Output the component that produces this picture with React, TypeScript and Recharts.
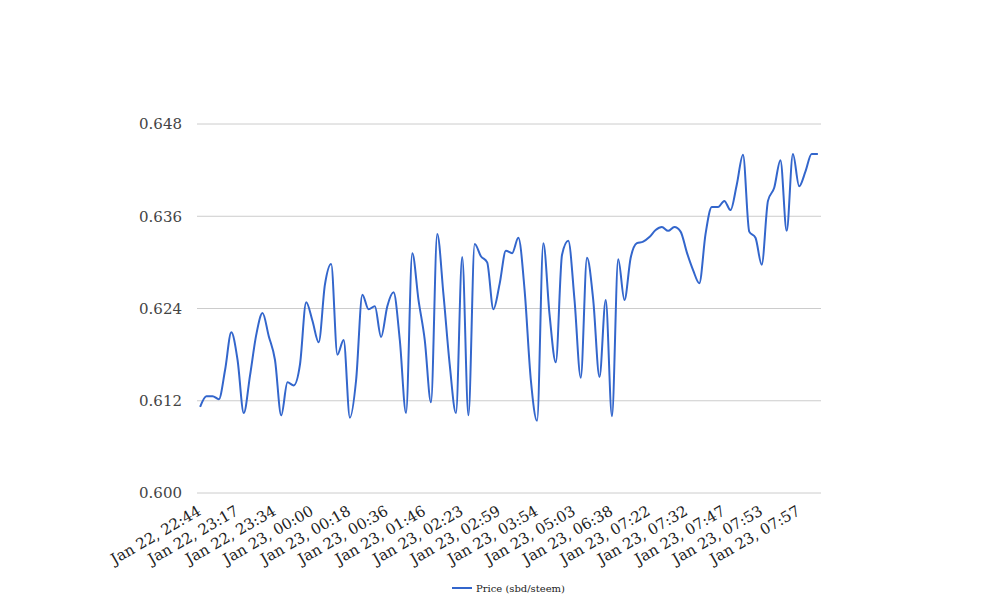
import React from "react";
import { LineChart, Line, XAxis, YAxis, CartesianGrid } from "recharts";

const prices: number[] = [
  0.6112, 0.6126, 0.6126, 0.6122, 0.616, 0.6209, 0.6173, 0.6104, 0.6153, 0.6206,
  0.6234, 0.6204, 0.6173, 0.6101, 0.6144, 0.614, 0.6167, 0.6248, 0.6224, 0.6196,
  0.6271, 0.6298, 0.618, 0.6199, 0.6098, 0.6147, 0.6258, 0.6239, 0.6243, 0.6203,
  0.6243, 0.6261, 0.6199, 0.6104, 0.6312, 0.6251, 0.6199, 0.6118, 0.6337, 0.6258,
  0.6167, 0.6104, 0.6307, 0.6101, 0.6324, 0.6308, 0.63, 0.6239, 0.6272, 0.6315,
  0.6312, 0.6332, 0.6264, 0.6147, 0.6094, 0.6325, 0.6232, 0.617, 0.631, 0.6328,
  0.6251, 0.615, 0.6306, 0.6251, 0.6151, 0.6251, 0.61, 0.6304, 0.6251, 0.6306,
  0.6325, 0.6327, 0.6333, 0.6342, 0.6346, 0.6341, 0.6346, 0.634, 0.6313, 0.629,
  0.6273, 0.6337, 0.6372, 0.6372, 0.638, 0.6368, 0.6401, 0.644, 0.634, 0.6332,
  0.6297, 0.638, 0.6397, 0.6433, 0.6341, 0.6441, 0.6399, 0.6418, 0.6441, 0.6441,
];

const tickIndices: number[] = [0, 6, 12, 18, 24, 30, 36, 42, 48, 54, 60, 66, 72, 78, 84, 90, 96];
const tickLabels: string[] = [
  "Jan 22, 22:44", "Jan 22, 23:17", "Jan 22, 23:34", "Jan 23, 00:00", "Jan 23, 00:18",
  "Jan 23, 00:36", "Jan 23, 01:46", "Jan 23, 02:23", "Jan 23, 02:59", "Jan 23, 03:54",
  "Jan 23, 05:03", "Jan 23, 06:38", "Jan 23, 07:22", "Jan 23, 07:32", "Jan 23, 07:47",
  "Jan 23, 07:53", "Jan 23, 07:57",
];
const yTicks: number[] = [0.6, 0.612, 0.624, 0.636, 0.648];
const seriesName = "Price (sbd/steem)";

const data = prices.map((p, i) => ({ idx: i, price: p }));

const FONT = "'DejaVu Serif', serif";

const XTick = (props: any) => {
  const { x, y, payload } = props;
  const k = tickIndices.indexOf(payload.value);
  const label = k >= 0 ? tickLabels[k] : "";
  const ax = x + 2;
  const ay = y + 13;
  return (
    <text
      x={ax}
      y={ay}
      textAnchor="end"
      transform={`rotate(-30, ${ax}, ${ay})`}
      fontFamily={FONT}
      fontSize={15}
      fill="#222"
    >
      {label}
    </text>
  );
};

export default function App() {
  return (
    <div style={{ position: "relative", width: 1000, height: 600, background: "#fff" }}>
      <LineChart
        width={1000}
        height={600}
        data={data}
        margin={{ top: 116, right: 187, bottom: 55, left: 0 }}
      >
        <CartesianGrid vertical={false} stroke="#cccccc" />
        <XAxis
          dataKey="idx"
          type="number"
          domain={[-0.5, 99.5]}
          ticks={tickIndices}
          tick={<XTick />}
          tickLine={false}
          axisLine={false}
          height={60}
          interval={0}
        />
        <YAxis
          domain={[0.6, 0.648]}
          ticks={yTicks}
          tickFormatter={(v: number) => v.toFixed(3)}
          width={189}
          tickLine={false}
          axisLine={false}
          tickSize={15}
          tickMargin={0}
          tick={{ fontFamily: FONT, fontSize: 15, fill: "#444" }}
        />
        <Line
          type="monotone"
          dataKey="price"
          name={seriesName}
          stroke="#3366cc"
          strokeWidth={2}
          dot={false}
          isAnimationActive={false}
        />
      </LineChart>
      <div
        style={{
          position: "absolute",
          left: 444,
          top: 573,
          height: 14,
          display: "flex",
          alignItems: "center",
          fontFamily: FONT,
          fontSize: 10,
          color: "#222",
          whiteSpace: "nowrap",
        }}
      >
        <span style={{ display: "inline-block", width: 20, height: 2, background: "#3366cc", marginRight: 4 }} />
        <span>{seriesName}</span>
      </div>
    </div>
  );
}
